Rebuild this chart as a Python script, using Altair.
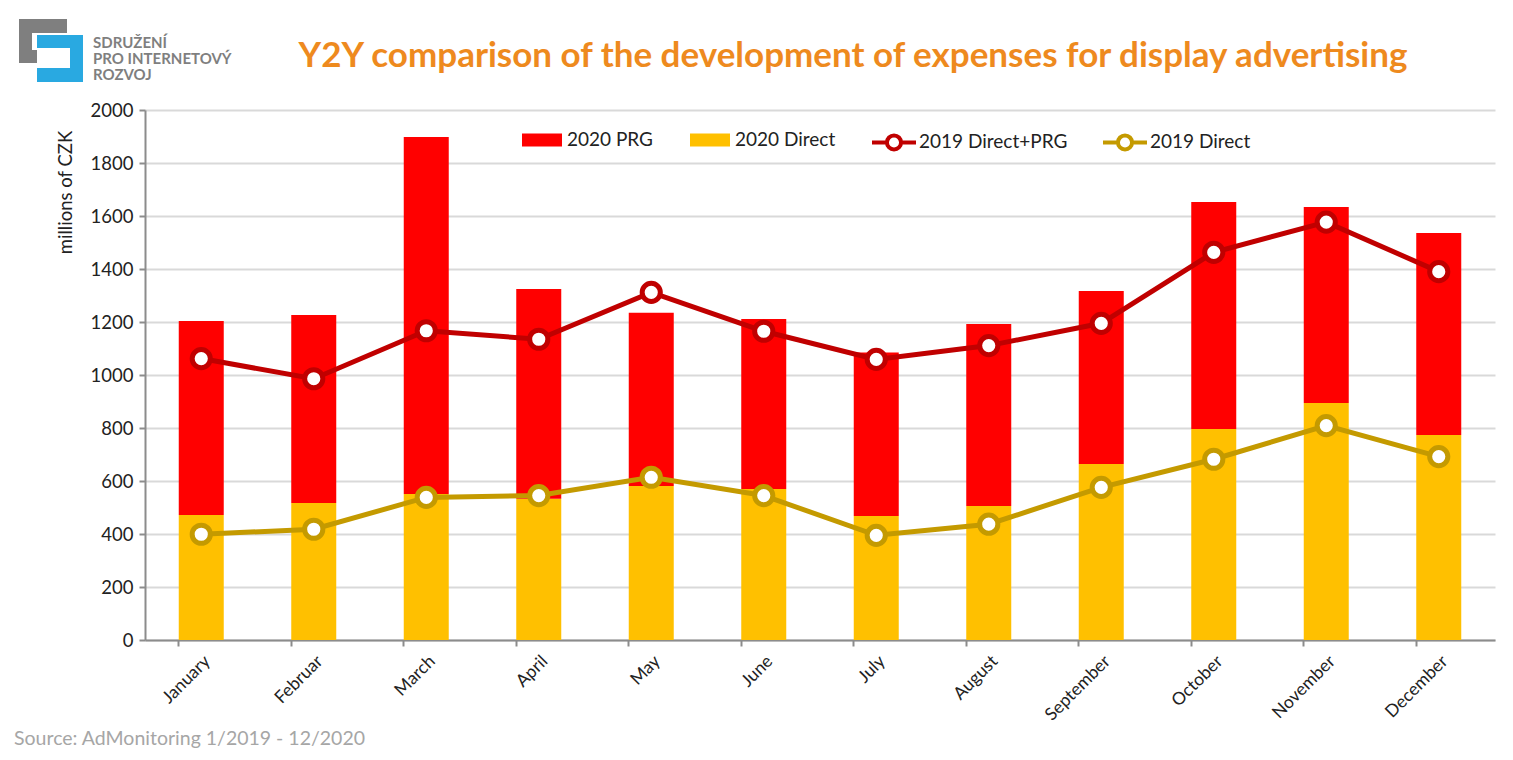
import altair as alt
import pandas as pd

months = ["January", "Februar", "March", "April", "May", "June", "July",
          "August", "September", "October", "November", "December"]
direct_2020 = [472, 517, 551, 533, 581, 570, 468, 506, 664, 796, 894, 774]
prg_2020 = [732, 709, 1347, 792, 654, 641, 617, 686, 653, 857, 740, 762]
total_2019 = [1062, 986, 1167, 1135, 1312, 1165, 1059, 1111, 1195, 1463, 1577, 1390]
direct_2019 = [399, 418, 538, 545, 614, 545, 395, 437, 576, 682, 809, 692]

bar_series = ["2020 PRG", "2020 Direct"]
line_series = ["2019 Direct+PRG", "2019 Direct"]

rows = []
for i, m in enumerate(months):
    rows.append({"month": m, "series": "2020 Direct", "value": direct_2020[i], "ord": 0})
    rows.append({"month": m, "series": "2020 PRG", "value": prg_2020[i], "ord": 1})
bars_df = pd.DataFrame(rows)

lrows = []
for i, m in enumerate(months):
    lrows.append({"month": m, "series": "2019 Direct+PRG", "value": total_2019[i]})
    lrows.append({"month": m, "series": "2019 Direct", "value": direct_2019[i]})
lines_df = pd.DataFrame(lrows)

FONT = "Lato"
W, H = 1350, 530

x_axis = alt.Axis(labelAngle=-45, labelFontSize=17.5, labelColor="#222",
                  labelFont=FONT, domainColor="#8C8C8C", domainWidth=2,
                  tickColor="#8C8C8C", tickWidth=2, tickSize=6,
                  bandPosition=0, labelPadding=6, grid=False)
y_axis = alt.Axis(values=list(range(0, 2001, 200)), format="d", labelFontSize=18.5,
                  labelFont=FONT, labelColor="#222", domainColor="#8C8C8C",
                  domainWidth=2, tickColor="#8C8C8C", tickSize=6, tickWidth=2,
                  gridColor="#D9D9D9", gridWidth=2, titleFontSize=18.5,
                  titleFont=FONT, titleFontWeight="normal", titleColor="#222",
                  titleAngle=-90, titleX=-80, titleY=82, titleAlign="center",
                  titleBaseline="middle", labelPadding=6)

bar_symbol = "M-1,-0.33H1V0.33H-1Z"
line_symbol = ("M-1,0H-0.32M0.32,0H1M0.32,0A0.32,0.32,0,1,1,-0.32,0"
               "A0.32,0.32,0,1,1,0.32,0")

bars = alt.Chart(bars_df).mark_bar().encode(
    x=alt.X("month:N", sort=months, title=None,
            scale=alt.Scale(paddingInner=0.6, paddingOuter=0.3), axis=x_axis),
    y=alt.Y("value:Q", stack="zero", title="millions of CZK",
            scale=alt.Scale(domain=[0, 2000]), axis=y_axis),
    fill=alt.Fill("series:N",
                  scale=alt.Scale(domain=bar_series, range=["#FF0000", "#FFC000"]),
                  legend=alt.Legend(title=None, orient="none", legendX=377, legendY=10,
                                    direction="horizontal", symbolType=bar_symbol,
                                    symbolSize=1600, symbolStrokeWidth=0,
                                    labelFontSize=19, labelFont=FONT, labelColor="#222",
                                    labelOffset=5, columnPadding=36, padding=0)),
    order=alt.Order("ord:Q"),
)

line_legend = alt.Legend(title=None, orient="none", legendX=725, legendY=8,
                         direction="horizontal", symbolType=line_symbol,
                         symbolSize=1936, symbolStrokeWidth=4,
                         symbolFillColor="white", labelFontSize=19, labelFont=FONT,
                         labelColor="#222", labelOffset=1, columnPadding=27, padding=0)

line_scale = alt.Scale(domain=line_series, range=["#C00000", "#C49A00"])

lines = alt.Chart(lines_df).mark_line(strokeWidth=5).encode(
    x=alt.X("month:N", sort=months),
    y=alt.Y("value:Q"),
    stroke=alt.Stroke("series:N", scale=line_scale, legend=line_legend),
    detail="series:N",
)
points = alt.Chart(lines_df).mark_point(filled=False, fill="white", fillOpacity=1,
                                        size=330, strokeWidth=5, opacity=1).encode(
    x=alt.X("month:N", sort=months),
    y=alt.Y("value:Q"),
    stroke=alt.Stroke("series:N", scale=line_scale, legend=None),
)

one = alt.Data(values=[{"a": 1}])

title = alt.Chart(one).mark_text(
    text="Y2Y comparison of the development of expenses for display advertising",
    font=FONT, fontSize=35, fontWeight="bold", color="#EE8A1E",
    align="center", baseline="middle").encode(x=alt.value(708), y=alt.value(-54))

source = alt.Chart(one).mark_text(
    text="Source: AdMonitoring 1/2019 - 12/2020", font=FONT, fontSize=19.5,
    color="#A6A6A6", align="left", baseline="middle").encode(
    x=alt.value(-131), y=alt.value(629))

logo_rects = pd.DataFrame({
    "x": [19, 19, 19, 37, 70, 37],
    "x2": [67, 32, 37, 83, 83, 83],
    "y": [19, 19, 50, 35, 35, 68],
    "y2": [33, 63, 63, 48, 82, 82],
    "c": ["#7F7F7F", "#7F7F7F", "#7F7F7F", "#29A9E1", "#29A9E1", "#29A9E1"],
})
logo_rects["x"] -= 145
logo_rects["x2"] -= 145
logo_rects["y"] -= 110
logo_rects["y2"] -= 110
logo = alt.Chart(logo_rects).mark_rect().encode(
    x=alt.X("x:Q", scale=None), x2="x2:Q",
    y=alt.Y("y:Q", scale=None), y2="y2:Q",
    color=alt.Color("c:N", scale=None, legend=None),
)

logo_text_df = pd.DataFrame({"t": ["SDRUŽENÍ", "PRO INTERNETOVÝ", "ROZVOJ"],
                             "yy": [43 - 110, 59 - 110, 75 - 110]})
logo_text = alt.Chart(logo_text_df).mark_text(
    font=FONT, fontSize=15, fontWeight="bold", color="#7F7F7F",
    align="left", baseline="middle").encode(
    x=alt.value(93 - 145), y=alt.Y("yy:Q", scale=None), text="t:N")

chart = alt.layer(bars, lines, points, title, source, logo, logo_text).resolve_scale(
    fill="independent", stroke="independent", color="independent"
).properties(
    width=W, height=H,
    autosize=alt.AutoSizeParams(type="none"),
    padding={"left": 145, "top": 110, "right": 18, "bottom": 120},
    background="white",
).configure_view(stroke=None)

chart.save("out.html", embed_options={"renderer": "svg", "actions": False})
